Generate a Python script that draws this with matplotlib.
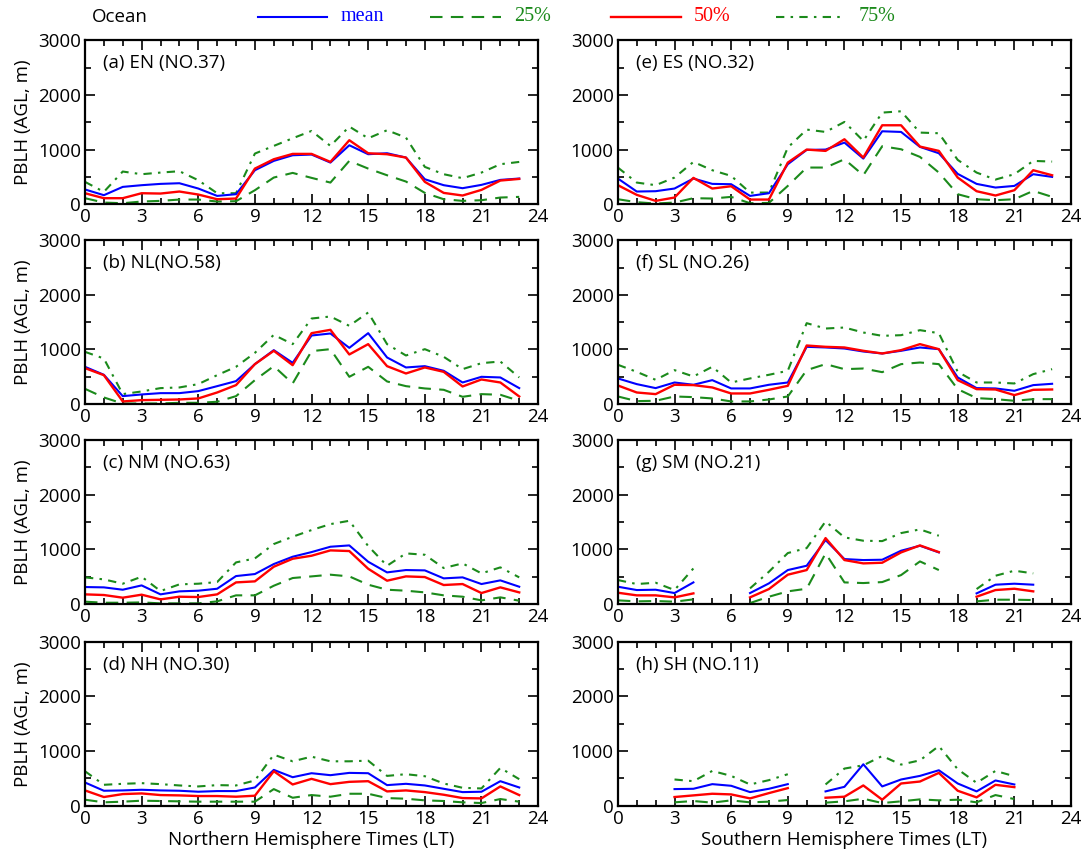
import numpy as np
import matplotlib
matplotlib.use("Agg")
import matplotlib.pyplot as plt
from matplotlib.lines import Line2D
from matplotlib.ticker import MultipleLocator

plt.rcParams['font.family'] = ['Open Sans', 'DejaVu Sans']

nan = np.nan
hours = np.arange(24)

# PBLH (m) per local hour: mean, 25th, 50th, 75th percentiles
en_mean = [270, 165, 317, 348, 372, 384, 287, 152, 183, 622, 793, 896, 909, 762, 1079, 915, 933, 854, 457, 348, 293, 354, 445, 470]
en_p25 = [110, 30, 18, 49, 61, 85, 85, 49, 55, 256, 488, 573, 482, 396, 793, 652, 530, 415, 207, 91, 61, 73, 122, 134]
en_p50 = [201, 110, 110, 201, 195, 232, 177, 91, 104, 652, 823, 921, 921, 774, 1171, 933, 915, 854, 409, 207, 159, 262, 433, 463]
en_p75 = [409, 226, 598, 549, 579, 604, 439, 201, 201, 927, 1067, 1207, 1341, 1067, 1421, 1207, 1354, 1220, 683, 549, 476, 579, 732, 774]

nl_mean = [683, 537, 146, 177, 201, 201, 238, 329, 421, 732, 988, 756, 1256, 1293, 1030, 1299, 854, 671, 695, 610, 396, 500, 488, 293]
nl_p25 = [280, 122, 10, 12, 12, 24, 24, 43, 146, 439, 695, 378, 970, 1006, 500, 683, 415, 329, 287, 262, 134, 183, 171, 61]
nl_p50 = [659, 530, 49, 73, 79, 85, 104, 213, 348, 732, 976, 713, 1299, 1360, 909, 1098, 695, 561, 671, 591, 323, 451, 396, 140]
nl_p75 = [957, 835, 183, 232, 293, 305, 366, 530, 683, 939, 1268, 1098, 1567, 1604, 1433, 1677, 1098, 890, 1006, 866, 640, 750, 780, 488]

nm_mean = [311, 305, 262, 341, 177, 232, 244, 280, 512, 549, 732, 866, 951, 1049, 1073, 774, 579, 622, 616, 470, 488, 366, 433, 317]
nm_p25 = [43, 24, 24, 30, 12, 12, 12, 49, 159, 159, 335, 476, 506, 537, 506, 354, 262, 244, 213, 159, 134, 67, 122, 61]
nm_p50 = [177, 165, 116, 171, 85, 134, 128, 177, 396, 415, 683, 829, 884, 982, 970, 646, 427, 506, 494, 348, 366, 201, 305, 213]
nm_p75 = [488, 451, 372, 500, 238, 360, 372, 402, 762, 835, 1098, 1232, 1354, 1463, 1524, 1061, 701, 927, 902, 659, 744, 561, 671, 488]

nh_mean = [424, 273, 279, 291, 279, 273, 255, 267, 267, 333, 655, 521, 594, 558, 600, 594, 376, 400, 370, 309, 248, 255, 448, 333]
nh_p25 = [109, 61, 73, 91, 85, 79, 73, 73, 73, 73, 303, 145, 194, 164, 218, 218, 139, 127, 97, 85, 61, 48, 121, 73]
nh_p50 = [279, 158, 212, 224, 194, 188, 176, 176, 164, 182, 630, 388, 491, 394, 436, 448, 261, 279, 248, 200, 139, 133, 352, 194]
nh_p75 = [630, 382, 400, 412, 394, 370, 352, 376, 370, 461, 933, 812, 897, 812, 812, 824, 545, 576, 539, 406, 327, 315, 691, 485]

es_mean = [470, 232, 238, 287, 470, 372, 366, 152, 201, 732, 994, 1000, 1128, 835, 1335, 1323, 1049, 933, 555, 372, 305, 335, 549, 500]
es_p25 = [91, 37, 12, 30, 110, 104, 134, 18, 24, 335, 671, 671, 823, 530, 1061, 1006, 866, 579, 183, 91, 73, 91, 244, 134]
es_p50 = [348, 171, 61, 122, 482, 287, 329, 85, 85, 762, 1000, 976, 1189, 854, 1445, 1445, 1055, 976, 488, 238, 159, 256, 622, 530]
es_p75 = [671, 396, 348, 488, 774, 622, 518, 213, 213, 1037, 1366, 1323, 1506, 1159, 1677, 1701, 1311, 1299, 811, 579, 451, 549, 793, 780]

sl_mean = [470, 366, 293, 396, 354, 439, 287, 287, 354, 396, 1049, 1037, 1018, 963, 927, 976, 1037, 1006, 488, 293, 287, 244, 348, 372]
sl_p25 = [140, 55, 61, 140, 128, 104, 49, 49, 85, 140, 622, 732, 640, 652, 585, 732, 762, 732, 274, 110, 91, 61, 91, 91]
sl_p50 = [341, 213, 183, 354, 348, 305, 195, 195, 262, 335, 1073, 1049, 1037, 976, 927, 988, 1098, 1006, 439, 274, 268, 165, 262, 268]
sl_p75 = [720, 591, 445, 622, 506, 683, 396, 470, 537, 610, 1482, 1384, 1402, 1311, 1250, 1262, 1354, 1299, 591, 396, 396, 378, 549, 640]

sm_mean = [317, 256, 262, 201, 396, nan, nan, 201, 378, 622, 701, 1171, 823, 805, 811, 976, 1067, 945, nan, 195, 354, 372, 354, nan]
sm_p25 = [67, 49, 55, 43, 85, nan, nan, 18, 134, 232, 280, 927, 396, 384, 402, 530, 780, 622, nan, 49, 79, 79, 73, nan]
sm_p50 = [207, 159, 159, 122, 195, nan, nan, 122, 274, 537, 622, 1207, 805, 744, 756, 945, 1073, 951, nan, 134, 256, 280, 232, nan]
sm_p75 = [439, 366, 390, 256, 652, nan, nan, 287, 591, 933, 1024, 1512, 1220, 1159, 1152, 1299, 1366, 1250, nan, 274, 518, 610, 561, nan]

sh_mean = [nan, nan, nan, 303, 309, 394, 364, 248, 309, 394, nan, 261, 345, 758, 352, 479, 545, 648, 406, 261, 461, 388, nan, nan]
sh_p25 = [nan, nan, nan, 61, 85, 55, 97, 61, 73, 103, nan, 55, 79, 127, 48, 79, 115, 97, 109, 61, 194, 121, nan, nan]
sh_p50 = [nan, nan, nan, 158, 188, 218, 206, 133, 230, 321, nan, 145, 164, 370, 109, 406, 442, 600, 273, 152, 382, 339, nan, nan]
sh_p75 = [nan, nan, nan, 479, 448, 636, 545, 388, 467, 576, nan, 388, 679, 739, 909, 752, 830, 1091, 667, 418, 636, 539, nan, nan]

panels = [
    ("(a) EN (NO.37)", en_mean, en_p25, en_p50, en_p75),
    ("(b) NL(NO.58)", nl_mean, nl_p25, nl_p50, nl_p75),
    ("(c) NM (NO.63)", nm_mean, nm_p25, nm_p50, nm_p75),
    ("(d) NH (NO.30)", nh_mean, nh_p25, nh_p50, nh_p75),
    ("(e) ES (NO.32)", es_mean, es_p25, es_p50, es_p75),
    ("(f) SL (NO.26)", sl_mean, sl_p25, sl_p50, sl_p75),
    ("(g) SM (NO.21)", sm_mean, sm_p25, sm_p50, sm_p75),
    ("(h) SH (NO.11)", sh_mean, sh_p25, sh_p50, sh_p75),
]

GREEN = '#1b8a1b'
style_mean = dict(color='blue', lw=1.5, ls='-')
style_p25 = dict(color=GREEN, lw=1.5, ls=(0, (6, 4)))
style_p50 = dict(color='red', lw=1.7, ls='-')
style_p75 = dict(color=GREEN, lw=1.5, ls=(0, (4, 3, 1.2, 3)))

fig = plt.figure(figsize=(10.84, 8.58), dpi=100)

bottoms = [0.762, 0.529, 0.296, 0.061]
lefts = [0.0784, 0.570]
w, h = 0.418, 0.191

for i, (label, mean, p25, p50, p75) in enumerate(panels):
    col, row = divmod(i, 4)
    ax = fig.add_axes([lefts[col], bottoms[row], w, h])
    ax.plot(hours, p25, **style_p25)
    ax.plot(hours, p75, **style_p75)
    ax.plot(hours, mean, **style_mean)
    ax.plot(hours, p50, **style_p50)

    ax.set_xlim(0, 24)
    ax.set_ylim(0, 3000)
    ax.xaxis.set_major_locator(MultipleLocator(3))
    ax.xaxis.set_minor_locator(MultipleLocator(1))
    ax.yaxis.set_major_locator(MultipleLocator(1000))
    ax.yaxis.set_minor_locator(MultipleLocator(500))
    ax.tick_params(which='both', direction='in', top=True, right=True, width=1.2)
    ax.tick_params(which='major', length=7, labelsize=13.5, pad=3)
    ax.tick_params(which='minor', length=4)
    for s in ax.spines.values():
        s.set_linewidth(1.6)
    ax.text(0.04, 0.86, label, transform=ax.transAxes, fontsize=13.5, va='center')

    if col == 0:
        ax.set_ylabel("PBLH (AGL, m)", fontsize=13.5, labelpad=4)
    if row == 3:
        ax.set_xlabel("Northern Hemisphere Times (LT)" if col == 0 else
                      "Southern Hemisphere Times (LT)", fontsize=13.5, labelpad=2)

# legend row along the top
fig.text(0.085, 0.980, "Ocean", fontsize=13.5, va='center')
legend_items = [
    (0.238, 0.302, style_mean, "mean", 'blue'),
    (0.397, 0.462, style_p25, "25%", GREEN),
    (0.564, 0.628, style_p50, "50%", 'red'),
    (0.716, 0.780, style_p75, "75%", GREEN),
]
for x0, x1, st, txt, c in legend_items:
    fig.add_artist(Line2D([x0, x1], [0.980, 0.980], transform=fig.transFigure, **st))
    fig.text(x1 + 0.012, 0.981, txt, fontsize=14.5, color=c, va='center',
             family='Liberation Serif')

fig.savefig("out.png", dpi=100)
